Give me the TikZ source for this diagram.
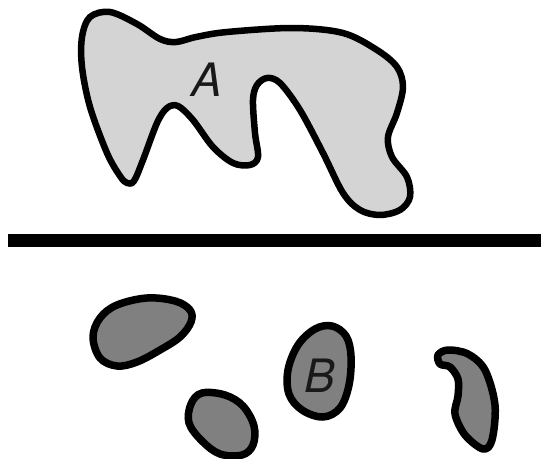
\documentclass[tikz,border=0pt]{standalone}
\usepackage{fontspec}
\newfontfamily\lblfont{TeX Gyre Heros}
\tikzset{
  bigblob/.style={draw=black, line width=6.5pt, fill=black!17, line join=round},
  smallblob/.style={draw=black, line width=7.5pt, fill=black!50, line join=round},
  lbl/.style={font=\lblfont\itshape\fontsize{46}{46}\selectfont, text=black!90}
}
\begin{document}
\begin{tikzpicture}[x=1pt,y=-1pt]
\useasboundingbox (0,0) rectangle (541,458);
% shape A
\draw[bigblob] plot[smooth cycle, tension=0.55] coordinates {
(82,37) (90,17) (110,12) (137,24) (160,39) (176,42) (196,37) (227,32) (293,28) (343,33)
(377,50) (397,67) (403,87) (397,113) (388,137) (392,157) (407,177) (410,197) (400,210)
(380,215) (360,210) (343,193) (323,153) (300,110) (280,83) (267,78) (257,85) (253,100)
(255,133) (258,157) (250,165) (233,163) (213,147) (193,120) (178,106) (167,108) (157,123)
(143,160) (134,181) (127,183) (120,176) (107,153) (90,107) (82,67)};
\node[lbl] (A) at (207,80) {A};
% separating bar
\coordinate (barL) at (8,240);
\coordinate (barR) at (541,240);
\draw[line width=13pt] (barL) -- (barR);
% lower blobs
\draw[smallblob] plot[smooth cycle, tension=0.6] coordinates {
(147,298) (175,301) (190,310) (191,322) (180,337) (160,350) (137,362) (117,366) (100,358)
(93,337) (100,318) (117,305)};
\draw[smallblob] plot[smooth cycle, tension=0.6] coordinates {
(202,393) (225,395) (243,406) (254,426) (253,445) (242,455) (220,454) (202,441) (189,423) (191,404)};
\draw[smallblob] plot[smooth cycle, tension=0.6] coordinates {
(332,326) (346,336) (351,356) (349,385) (340,408) (323,417) (302,410) (289,394) (288,370) (298,345) (315,329)};
\node[lbl] (B) at (320,376) {B};
\draw[smallblob] plot[smooth cycle, tension=0.55] coordinates {
(438,355) (448,350) (468,354) (485,370) (495,405) (492,440) (483,449) (465,435) (455,414)
(458,396) (458,379) (450,367) (440,364)};
\end{tikzpicture}
\end{document}
